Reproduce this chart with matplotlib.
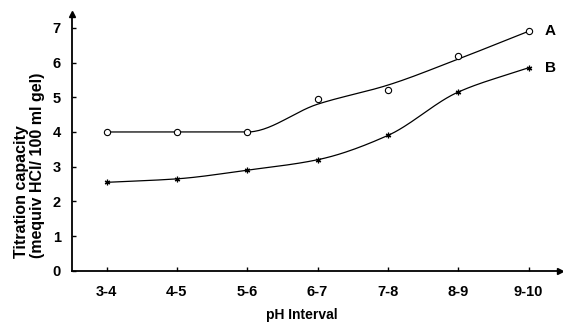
import numpy as np
import matplotlib
matplotlib.use("Agg")
import matplotlib.pyplot as plt

plt.rcParams['font.family'] = ['Liberation Sans', 'DejaVu Sans']

ph_intervals = ["3-4", "4-5", "5-6", "6-7", "7-8", "8-9", "9-10"]
gel_a = [4.0, 4.0, 4.0, 4.95, 5.2, 6.2, 6.9]
gel_b = [2.55, 2.65, 2.9, 3.2, 3.9, 5.15, 5.85]
# smoothed trend drawn through (hand-fitted curve of the original figure)
trend_a = [4.0, 4.0, 4.0, 4.8, 5.35, 6.1, 6.9]
trend_b = [2.55, 2.65, 2.9, 3.2, 3.9, 5.15, 5.85]


def smooth(y, n=30):
    # monotone cubic (Fritsch-Carlson) through the given values
    y = np.asarray(y, float)
    x = np.arange(len(y), dtype=float)
    d = np.diff(y)
    m = np.zeros_like(y)
    m[0], m[-1] = d[0], d[-1]
    for i in range(1, len(y) - 1):
        m[i] = 0.0 if d[i - 1] * d[i] <= 0 else 2 / (1 / d[i - 1] + 1 / d[i])
    xs, ys = [], []
    for i in range(len(y) - 1):
        t = np.linspace(0, 1, n, endpoint=False)
        h00 = 2 * t**3 - 3 * t**2 + 1
        h10 = t**3 - 2 * t**2 + t
        h01 = -2 * t**3 + 3 * t**2
        h11 = t**3 - t**2
        xs.append(x[i] + t)
        ys.append(h00 * y[i] + h10 * m[i] + h01 * y[i + 1] + h11 * m[i + 1])
    xs.append([x[-1]])
    ys.append([y[-1]])
    return np.concatenate(xs), np.concatenate(ys)


fig = plt.figure(figsize=(5.63, 3.24), dpi=100)
ax = fig.add_axes([0.128, 0.164, 0.867, 0.793])

x = np.arange(len(ph_intervals))
xa, ya = smooth(trend_a)
xb, yb = smooth(trend_b)
ax.plot(xa, ya, color="black", lw=0.9)
ax.plot(xb, yb, color="black", lw=0.9)
ax.plot(x, gel_a, ls="none", marker="o", ms=4.5, mfc="white", mec="black", mew=0.8)
ax.plot(x, gel_b, ls="none", marker=(6, 2, 0), ms=4, color="black", mew=0.9)

ax.text(x[-1] + 0.23, gel_a[-1], "A", fontsize=11, fontweight="bold", va="center")
ax.text(x[-1] + 0.23, gel_b[-1], "B", fontsize=11, fontweight="bold", va="center")

ax.set_xlim(-0.49, 6.45)
ax.set_ylim(0, 7.4)
ax.set_xticks(x)
ax.set_xticklabels(ph_intervals)
ax.set_yticks(range(8))
ax.tick_params(direction="in", length=3, width=1, labelsize=10.5)
for lab in ax.get_xticklabels() + ax.get_yticklabels():
    lab.set_fontweight("bold")
ax.tick_params(axis="x", pad=10)
ax.tick_params(axis="y", pad=8)

for s in ["top", "right"]:
    ax.spines[s].set_visible(False)
ax.spines["left"].set_linewidth(1.3)
ax.spines["bottom"].set_linewidth(1.3)
ax.plot(0, 1, "^k", ms=5, transform=ax.transAxes, clip_on=False)
ax.plot(1, 0, ">k", ms=4, transform=ax.transAxes, clip_on=False)

ax.set_xlabel("pH Interval", fontsize=10, fontweight="bold")
ax.xaxis.set_label_coords(0.47, -0.145)
ax.text(-0.088, 0.41, "Titration capacity\n(mequiv HCl/ 100 ml gel)",
        transform=ax.transAxes, rotation=90, ha="center", va="center",
        multialignment="left", fontsize=11.5, fontweight="bold",
        linespacing=1.1)

fig.savefig("out.png", dpi=100)
